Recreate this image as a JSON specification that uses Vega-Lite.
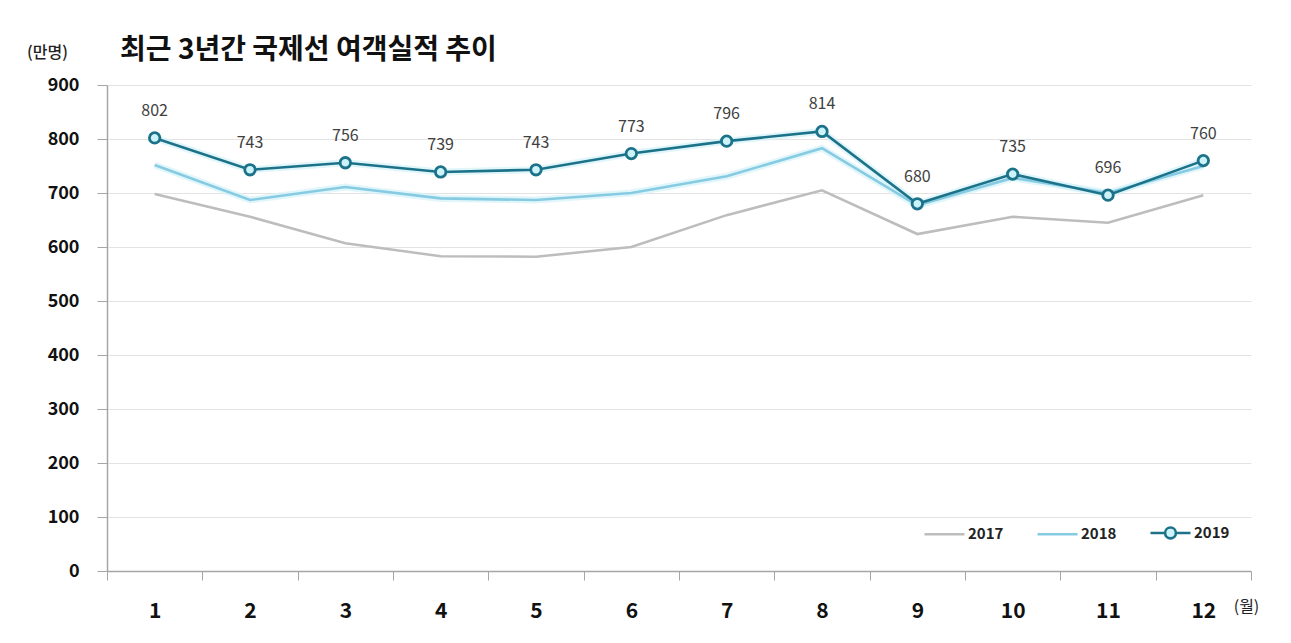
{
  "$schema": "https://vega.github.io/schema/vega-lite/v6.json",
  "width": 1144,
  "height": 486,
  "autosize": {"type": "none"},
  "padding": {"left": 107, "top": 85, "right": 40, "bottom": 72},
  "background": "white",
  "title": {
    "text": "최근 3년간 국제선 여객실적 추이",
    "anchor": "start",
    "frame": "group",
    "dx": 13,
    "dy": 45,
    "offset": 24,
    "fontSize": 28,
    "fontWeight": "bold",
    "color": "#111111",
    "font": "Noto Sans CJK KR"
  },
  "config": {
    "font": "Noto Sans CJK KR",
    "view": {"stroke": null}
  },
  "data": {
    "values": [
      {"month": 1, "year": "2017", "value": 698},
      {"month": 2, "year": "2017", "value": 656},
      {"month": 3, "year": "2017", "value": 607},
      {"month": 4, "year": "2017", "value": 583},
      {"month": 5, "year": "2017", "value": 582},
      {"month": 6, "year": "2017", "value": 600},
      {"month": 7, "year": "2017", "value": 659},
      {"month": 8, "year": "2017", "value": 705},
      {"month": 9, "year": "2017", "value": 624},
      {"month": 10, "year": "2017", "value": 656},
      {"month": 11, "year": "2017", "value": 645},
      {"month": 12, "year": "2017", "value": 696},
      {"month": 1, "year": "2018", "value": 752},
      {"month": 2, "year": "2018", "value": 687},
      {"month": 3, "year": "2018", "value": 711},
      {"month": 4, "year": "2018", "value": 690},
      {"month": 5, "year": "2018", "value": 687},
      {"month": 6, "year": "2018", "value": 700},
      {"month": 7, "year": "2018", "value": 731},
      {"month": 8, "year": "2018", "value": 783},
      {"month": 9, "year": "2018", "value": 677},
      {"month": 10, "year": "2018", "value": 728},
      {"month": 11, "year": "2018", "value": 700},
      {"month": 12, "year": "2018", "value": 750},
      {"month": 1, "year": "2019", "value": 802},
      {"month": 2, "year": "2019", "value": 743},
      {"month": 3, "year": "2019", "value": 756},
      {"month": 4, "year": "2019", "value": 739},
      {"month": 5, "year": "2019", "value": 743},
      {"month": 6, "year": "2019", "value": 773},
      {"month": 7, "year": "2019", "value": 796},
      {"month": 8, "year": "2019", "value": 814},
      {"month": 9, "year": "2019", "value": 680},
      {"month": 10, "year": "2019", "value": 735},
      {"month": 11, "year": "2019", "value": 696},
      {"month": 12, "year": "2019", "value": 760}
    ]
  },
  "encoding": {
    "x": {
      "field": "month",
      "type": "ordinal",
      "bandPosition": 0.5,
      "scale": {"type": "band", "paddingInner": 0, "paddingOuter": 0},
      "axis": {
        "title": "(월)",
        "titleX": 1139,
        "titleY": 27,
        "titleFontSize": 16,
        "titleFontWeight": "normal",
        "titleColor": "#222222",
        "labelAngle": 0,
        "labelFontSize": 21,
        "labelFontWeight": "bold",
        "labelColor": "#111111",
        "labelPadding": 20,
        "tickBand": "extent",
        "tickColor": "#A6A6A6",
        "tickSize": 9,
        "domainColor": "#A6A6A6",
        "domainWidth": 1.5,
        "grid": false
      }
    },
    "y": {
      "field": "value",
      "type": "quantitative",
      "scale": {"domain": [0, 900], "nice": false},
      "axis": {
        "title": "(만명)",
        "titleAngle": 0,
        "titleX": -60,
        "titleY": -25,
        "titleAlign": "center",
        "titleFontSize": 16,
        "titleFontWeight": 500,
        "titleColor": "#222222",
        "values": [0, 100, 200, 300, 400, 500, 600, 700, 800, 900],
        "labelFontSize": 18,
        "labelFontWeight": "bold",
        "labelColor": "#111111",
        "labelPadding": 18,
        "tickColor": "#A6A6A6",
        "tickSize": 10,
        "domainColor": "#A6A6A6",
        "domainWidth": 1.5,
        "grid": true,
        "gridColor": "#E3E3E3",
        "gridWidth": 1.2
      }
    }
  },
  "layer": [
    {
      "transform": [{"filter": "datum.year !== '2017'"}],
      "mark": {"type": "line", "strokeWidth": 7, "color": "#D4F2F9", "opacity": 0.7},
      "encoding": {"detail": {"field": "year", "type": "nominal"}}
    },
    {
      "mark": {"type": "line"},
      "encoding": {
        "strokeWidth": {
          "field": "year",
          "type": "nominal",
          "scale": {"domain": ["2017", "2018", "2019"], "range": [2.6, 2.6, 3.3]},
          "legend": null
        },
        "color": {
          "field": "year",
          "type": "nominal",
          "scale": {"domain": ["2017", "2018", "2019"], "range": ["#BDBDBD", "#86CBE2", "#1C7389"]},
          "legend": {
            "title": null,
            "orient": "none",
            "direction": "horizontal",
            "legendX": 816,
            "legendY": 426,
            "symbolType": "stroke",
            "symbolSize": 1600,
            "symbolStrokeWidth": 2.5,
            "labelFontSize": 15,
            "labelFontWeight": "bold",
            "labelColor": "#222222",
            "columnPadding": 28,
            "labelOffset": 2,
            "encode": {
              "symbols": {
                "update": {
                  "shape": {"signal": "datum.value === '2019' ? 'M-1,0H-0.3M0.3,0H1M0.27,0A0.27,0.27,0,1,1,-0.27,0A0.27,0.27,0,1,1,0.27,0' : 'stroke'"},
                  "fill": {"signal": "datum.value === '2019' ? '#CDF3FA' : 'transparent'"}
                }
              }
            }
          }
        }
      }
    },
    {
      "transform": [{"filter": "datum.year === '2019'"}],
      "mark": {"type": "point", "shape": "circle", "filled": true, "fill": "#CDF3FA", "stroke": "#1C7389", "strokeWidth": 2.8, "size": 110, "opacity": 1}
    },
    {
      "transform": [{"filter": "datum.year === '2019'"}],
      "mark": {"type": "text", "dy": -27, "fontSize": 16, "color": "#404040"},
      "encoding": {"text": {"field": "value", "type": "quantitative"}}
    }
  ]
}
